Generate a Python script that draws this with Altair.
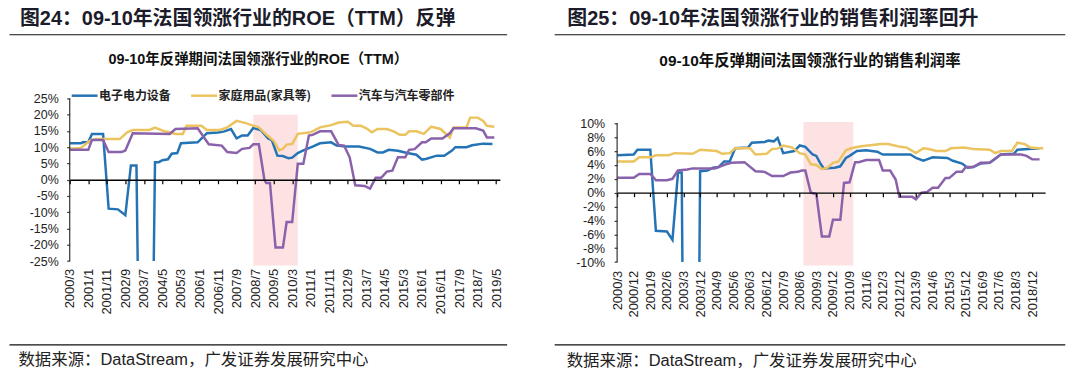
import altair as alt
import pandas as pd

FONT = "Liberation Sans, Arial, Noto Sans CJK SC, sans-serif"
CJK = "Noto Sans CJK SC, sans-serif"
INK = "#1c1c2a"

names = ["电子电力设备", "家庭用品(家具等)", "汽车与汽车零部件"]
colors = ["#2474b5", "#ebc35f", "#8a62ab"]

# month offsets: 0 = 2000/3, 1 = 2000/4, ...
# ---- Figure 24: ROE (TTM), %
roe_elec_t = [0,6,7,10,12,18,21,26,30,33,36,37,45,46,48,50,53,55,58,60,69,74,80,83,87,90,93,96,99,103,
              107,109,112,115,118,120,123,126,131,135,141,144,149,156,162,166,169,172,177,182,187,190,192,
              198,202,206,208,214,217,223,228]
roe_elec_v = [11.2,11.2,11.5,11.5,14.1,14.1,-8.9,-9.1,-10.9,4.4,4.4,-40,-40,5.4,5.4,6.0,6.3,8.0,8.2,11.2,
              11.5,14.3,14.5,14.8,15.6,12.7,13.6,13.6,15.9,15.3,12.7,12.2,7.4,7.3,6.6,6.8,8.2,9.0,10.2,11.2,
              11.5,10.5,10.2,10.2,9.5,8.4,8.4,9.2,8.9,8.2,7.7,6.2,6.4,7.4,7.4,8.9,10.0,10.0,10.6,11.1,11.0]
roe_home_t = [0,6,11,14,27,31,34,43,46,51,54,57,61,63,71,74,81,85,90,95,98,102,106,110,113,115,117,120,123,130,
              135,141,145,150,153,157,160,163,166,171,175,178,181,183,187,191,195,200,205,207,214,216,220,223,225,229]
roe_home_v = [9.5,9.8,12.0,12.5,12.5,14.6,15.3,15.3,16.0,14.9,14.6,14.1,14.1,16.6,16.6,15.3,15.3,16.1,18.1,17.4,
              16.8,16.1,13.9,12.0,9.0,9.5,10.8,11.0,14.1,14.6,16.1,16.8,17.6,17.8,16.6,16.6,15.8,14.6,15.6,15.6,
              14.8,13.8,13.8,14.9,14.9,14.1,16.3,15.6,13.0,16.1,16.1,19.1,19.1,18.1,16.6,16.3]
roe_auto_t = [0,10,12,18,21,28,30,34,54,57,69,75,82,85,90,93,97,99,102,105,106,108,111,115,117,120,123,126,129,131,
              135,141,145,148,151,154,159,162,165,168,171,174,177,181,183,186,190,192,195,201,205,207,219,223,225,229]
roe_auto_v = [9.2,9.2,12.2,12.2,8.5,8.5,9.0,14.3,14.1,15.6,15.8,10.9,10.5,8.5,8.2,9.5,9.8,10.9,10.9,0,
              -1.0,-1.0,-20.8,-20.8,-13.0,-13.0,4.9,4.9,13.6,13.8,14.9,14.9,10.7,10.5,6.9,-1.7,-1.9,-2.7,0.6,0.6,
              2.5,2.8,6.9,6.9,9.2,9.4,11.5,11.5,12.7,12.7,14.3,15.8,15.8,15.1,13.0,13.0]

# ---- Figure 25: net profit margin, %
npm_elec_t = [0,9,11,18,21,27,30,33,35,36,44,45,49,52,55,58,61,64,71,73,80,82,85,87,90,96,99,102,106,108,
              110,112,118,121,124,126,130,135,141,144,159,162,166,168,171,179,182,187,190,193,197,202,206,208,215,217,229]
npm_elec_v = [5.4,5.5,6.2,6.2,-5.5,-5.6,-6.8,2.9,2.9,-30,-30,3.1,3.2,3.6,3.7,4.5,4.5,6.4,6.5,7.2,
              7.3,7.5,7.4,7.9,5.7,6.0,6.8,6.6,5.5,5.3,4.3,3.5,3.6,3.8,5.0,5.3,6.0,6.1,5.9,5.5,
              5.5,5.0,4.6,4.8,5.1,5.0,4.6,4.2,3.6,3.7,4.2,4.3,5.1,5.5,5.6,6.2,6.4]
npm_home_t = [0,9,12,18,21,28,31,41,45,54,57,61,64,72,75,81,84,87,90,95,99,102,105,108,111,114,117,120,124,127,
              132,136,143,147,152,157,162,166,169,173,178,181,188,193,202,205,208,214,217,221,224,229,231]
npm_home_v = [4.5,4.5,5.1,5.1,5.4,5.4,5.7,5.6,6.2,6.0,5.6,5.7,6.4,6.4,5.5,5.6,6.3,6.35,6.8,6.5,
              5.7,5.5,4.1,4.0,3.4,3.6,4.3,4.5,6.1,6.4,6.7,6.8,7.0,7.0,6.7,6.5,5.7,6.4,6.3,6.0,
              6.0,6.4,6.5,6.3,6.2,5.7,6.0,6.0,7.2,7.0,6.5,6.4,6.4]
npm_auto_t = [0,9,12,18,21,27,30,33,38,41,53,55,59,62,69,75,80,84,90,94,98,100,102,105,108,111,115,117,121,123,
              126,129,131,135,142,144,148,151,153,160,162,165,168,171,174,178,180,184,187,189,193,197,202,206,208,
              219,222,225,229]
npm_auto_v = [2.15,2.15,2.7,2.7,1.8,1.8,2.0,3.2,3.35,3.5,3.5,3.7,4.1,4.3,4.4,3.1,3.0,2.4,2.4,2.9,
              3.0,3.2,3.2,0,-0.2,-6.3,-6.3,-3.9,-3.9,1.4,1.5,4.4,4.4,4.7,4.7,3.2,3.2,1.9,-0.6,-0.6,
              -0.95,0.0,0.1,0.7,0.7,2.1,2.1,3.0,3.0,3.7,3.7,4.3,4.3,5.1,5.5,5.5,5.3,4.8,4.8]

# rebound period shading (month offsets, value range)
roe_shade = {"t": 99, "t2": 123, "v": 20, "v2": -26.4}
npm_shade = {"t": 101, "t2": 128, "v": 10.18, "v2": -10.5}

# axis ranges (min, max, step) shown on the value axis
roe_ticks = (-25, 25, 5)
npm_ticks = (-10, 10, 2)

titles = ["图24：09-10年法国领涨行业的ROE（TTM）反弹", "图25：09-10年法国领涨行业的销售利润率回升"]
subtitles = ["09-10年反弹期间法国领涨行业的ROE（TTM）", "09-10年反弹期间法国领涨行业的销售利润率"]
source = "数据来源：DataStream，广发证券发展研究中心"


def frame(parts):
    rows = []
    for name, ts, vs in parts:
        for a, b in zip(ts, vs):
            rows.append({"series": name, "t": a, "v": b})
    return pd.DataFrame(rows)


LABEL_EXPR = "(2000 + floor((datum.value + 2) / 12)) + '/' + ((datum.value + 2) % 12 + 1)"


def panel(df, shade, ticks, W, H, ydom, xstep, title, subtitle, g):
    zero_px = H * ydom[1] / (ydom[1] - ydom[0])
    xscale = alt.Scale(domain=[0, 232], nice=False, zero=False)
    yscale = alt.Scale(domain=ydom, nice=False, zero=False)
    xaxis = alt.Axis(values=list(range(0, 231, xstep)), labelExpr=LABEL_EXPR, labelAngle=270,
                     labelAlign="right", labelBaseline="middle", offset=-(H - zero_px),
                     tickSize=4, labelPadding=g["xlp"], domainColor="#000", domainWidth=1.3,
                     tickColor="#000", tickWidth=1.2, labelFont=FONT, labelFontSize=13,
                     labelColor="#222", grid=False, title=None, zindex=1,
                     labelOverlap=False, labelFlush=False)
    yaxis = alt.Axis(values=list(range(ticks[0], ticks[1] + 1, ticks[2])), labelExpr="datum.value + '%'",
                     tickSize=3, domain=False, tickColor="#333", tickWidth=1.2,
                     labelPadding=g["ylp"], labelFont=FONT, labelFontSize=12.5, labelColor="#222",
                     grid=False, title=None, zindex=1)
    rect = alt.Chart(pd.DataFrame([shade])).mark_rect(color="#fde2e4").encode(
        x=alt.X("t:Q", scale=xscale, axis=xaxis), x2="t2:Q",
        y=alt.Y("v:Q", scale=yscale, axis=yaxis), y2="v2:Q")
    lines = alt.Chart(df).mark_line(strokeWidth=2.5, clip=True).encode(
        x=alt.X("t:Q", scale=xscale, axis=xaxis),
        y=alt.Y("v:Q", scale=yscale, axis=yaxis),
        color=alt.Color("series:N", scale=alt.Scale(domain=names, range=colors), sort=names,
                        legend=alt.Legend(orient="none", legendX=g["lx"], legendY=g["ly"],
                                          direction="horizontal", title=None, symbolType="stroke",
                                          symbolSize=676, symbolStrokeWidth=2.5, labelFont=CJK,
                                          labelFontSize=12, labelFontWeight="bold", labelColor="#222",
                                          columnPadding=g["cp"], labelOffset=0, padding=0,
                                          labelLimit=300)),
        detail="series:N")
    # value-axis line, spanning the labelled range only
    vline = alt.Chart(pd.DataFrame({"t": [0], "v": [ticks[0]], "v2": [ticks[1]]})).mark_rule(
        color="#333", strokeWidth=1.2).encode(
        x=alt.X("t:Q", scale=xscale, axis=xaxis), y=alt.Y("v:Q", scale=yscale, axis=yaxis), y2="v2:Q")
    one = pd.DataFrame({"k": [0]})
    t_title = alt.Chart(one).mark_text(align="left", baseline="middle", font=FONT, fontSize=20,
                                       fontWeight="bold", color=INK).encode(
        x=alt.value(g["tx"]), y=alt.value(g["ty"]), text=alt.value(title))
    t_sub = alt.Chart(one).mark_text(align="center", baseline="middle", font=FONT, fontSize=g["sfs"],
                                     fontWeight="bold", color="#111").encode(
        x=alt.value(g["sx"]), y=alt.value(g["sy"]), text=alt.value(subtitle))
    r_top = alt.Chart(one).mark_rule(color="#111", strokeWidth=1.2).encode(
        x=alt.value(g["rx1"]), x2=alt.value(g["rx2"]), y=alt.value(g["ry1"]))
    r_bot = alt.Chart(one).mark_rule(color="#111", strokeWidth=1.2).encode(
        x=alt.value(g["rx1"]), x2=alt.value(g["rx2"]), y=alt.value(g["ry2"]))
    t_src = alt.Chart(one).mark_text(align="left", baseline="middle", font=FONT, fontSize=16.5,
                                     color="#222").encode(
        x=alt.value(g["fx"]), y=alt.value(g["fy"]), text=alt.value(source))
    return alt.layer(rect, lines, vline, t_title, t_sub, r_top, r_bot, t_src).properties(width=W, height=H)


roe_df = frame([(names[0], roe_elec_t, roe_elec_v), (names[1], roe_home_t, roe_home_v),
                (names[2], roe_auto_t, roe_auto_v)])
npm_df = frame([(names[0], npm_elec_t, npm_elec_v), (names[1], npm_home_t, npm_home_v),
                (names[2], npm_auto_t, npm_auto_v)])

# both plot areas start at the same height; the right one has 25px of headroom above 10%
left = panel(roe_df, roe_shade, roe_ticks, 432.2, 163.4, [-25, 25], 10, titles[0], subtitles[0],
             dict(xlp=85, ylp=8.5, lx=0.5, ly=-17.5, cp=14, tx=-50, ty=-79.3, sx=189.5, sy=-39, sfs=14.5,
                  rx1=-60.5, rx2=439.5, ry1=-64, ry2=247.7, fx=-51.5, fy=262.7))
right = panel(npm_df, npm_shade, npm_ticks, 430, 164.4, [-10, 13.584], 9, titles[1], subtitles[1],
              dict(xlp=74, ylp=9.5, lx=-6.7, ly=-15.5, cp=16, tx=-50, ty=-79.3, sx=193.8, sy=-37.3, sfs=15.5,
                   rx1=-62.7, rx2=450.3, ry1=-64, ry2=247.7, fx=-50.7, fy=263.7))

chart = alt.hconcat(left, right, spacing=45).properties(
    padding=0, background="white").configure_view(stroke=None)

chart.save("out.html", embed_options={"renderer": "svg", "actions": False})
